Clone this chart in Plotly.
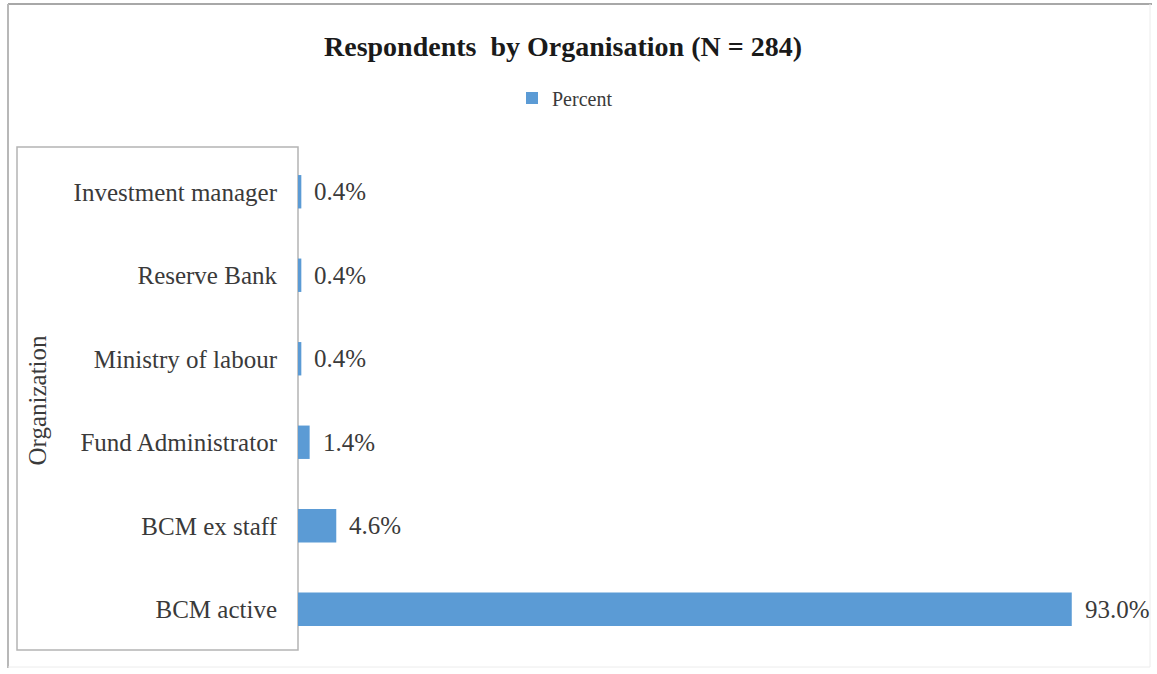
import plotly.graph_objects as go

# Respondents by organisation, share of N = 284
organisations = [
    "Investment manager",
    "Reserve Bank",
    "Ministry of labour",
    "Fund Administrator",
    "BCM ex staff",
    "BCM active",
]
percent = [0.4, 0.4, 0.4, 1.4, 4.6, 93.0]

W, H = 1157, 674
L, R, T, B = 298, 27, 150, 23
PW, PH = W - L - R, H - T - B


def px_x(p):
    return (p - L) / PW


def px_y(p):
    return (H - B - p) / PH


SERIF = "Liberation Serif, Times New Roman, serif"
TXT = "#3a3a3a"
BLUE = "#5B9BD5"

fig = go.Figure()
fig.add_trace(go.Bar(
    x=percent,
    y=organisations,
    orientation="h",
    name="Percent",
    marker=dict(color=BLUE, line=dict(width=0)),
    width=0.4,
    showlegend=True,
))

annotations = []
for org, v in zip(organisations, percent):
    annotations.append(dict(
        x=v, y=org, xref="x", yref="y",
        text=f"{v:.1f}%", showarrow=False,
        xanchor="left", yanchor="middle", xshift=11,
        font=dict(family=SERIF, size=25, color=TXT),
    ))

# chart title
annotations.append(dict(
    x=px_x(563), y=px_y(46), xref="paper", yref="paper",
    text="<b>Respondents  by Organisation (N = 284)</b>", showarrow=False,
    xanchor="center", yanchor="middle",
    font=dict(family=SERIF, size=28, color="#1a1a1a"),
))

# category axis title
annotations.append(dict(
    x=px_x(37), y=0.5, xref="paper", yref="paper",
    text="Organization", showarrow=False, textangle=-90,
    xanchor="center", yanchor="middle",
    font=dict(family=SERIF, size=25, color=TXT),
))

shapes = [
    # outer frame
    dict(type="line", xref="paper", yref="paper",
         x0=px_x(8), x1=px_x(1152), y0=px_y(4), y1=px_y(4),
         line=dict(color="#a8a8a8", width=2)),
    dict(type="line", xref="paper", yref="paper",
         x0=px_x(8), x1=px_x(8), y0=px_y(4), y1=px_y(668),
         line=dict(color="#b8b8b8", width=2)),
    dict(type="line", xref="paper", yref="paper",
         x0=px_x(1150), x1=px_x(1150), y0=px_y(4), y1=px_y(667),
         line=dict(color="#ececec", width=1)),
    dict(type="line", xref="paper", yref="paper",
         x0=px_x(8), x1=px_x(1150), y0=px_y(667), y1=px_y(667),
         line=dict(color="#ececec", width=1)),
    # box around the category labels
    dict(type="rect", xref="paper", yref="paper",
         x0=px_x(17), x1=px_x(298), y0=px_y(147), y1=px_y(650),
         line=dict(color="#b4b4b4", width=1.5), layer="below"),
]

fig.update_layout(
    width=W, height=H,
    margin=dict(l=L, r=R, t=T, b=B, autoexpand=False),
    paper_bgcolor="white",
    plot_bgcolor="white",
    bargap=0.6,
    font=dict(family=SERIF, color=TXT),
    showlegend=True,
    legend=dict(
        orientation="h",
        x=px_x(512), y=px_y(98), xanchor="left", yanchor="middle",
        font=dict(family=SERIF, size=20, color=TXT),
        itemwidth=30, bgcolor="rgba(0,0,0,0)",
    ),
    xaxis=dict(
        range=[0, 100], visible=False, fixedrange=True,
    ),
    yaxis=dict(
        autorange="reversed",
        showline=False, showgrid=False, zeroline=False,
        ticks="", ticklabelstandoff=20,
        tickfont=dict(family=SERIF, size=25, color=TXT),
        automargin=False,
    ),
    annotations=annotations,
    shapes=shapes,
)

fig.write_html("out.html")
